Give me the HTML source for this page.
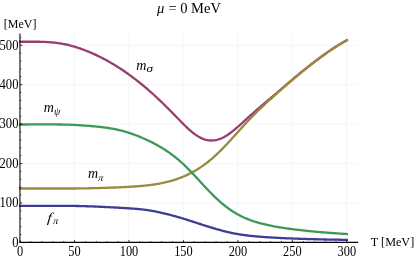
<!DOCTYPE html>
<html><head><meta charset="utf-8"><title>plot</title>
<style>
html,body{margin:0;padding:0;background:#fff;}
body{width:415px;height:258px;position:relative;overflow:hidden;font-family:"Liberation Serif",serif;}
</style></head><body>
<svg width="415" height="258" viewBox="0 0 415 258" style="position:absolute;left:0;top:0;will-change:transform;opacity:0.999">
<line x1="74.27" y1="33.2" x2="74.27" y2="242.4" stroke="#f5f5f5" stroke-width="1"/>
<line x1="128.73" y1="33.2" x2="128.73" y2="242.4" stroke="#f5f5f5" stroke-width="1"/>
<line x1="183.19" y1="33.2" x2="183.19" y2="242.4" stroke="#f5f5f5" stroke-width="1"/>
<line x1="237.66" y1="33.2" x2="237.66" y2="242.4" stroke="#f5f5f5" stroke-width="1"/>
<line x1="292.12" y1="33.2" x2="292.12" y2="242.4" stroke="#f5f5f5" stroke-width="1"/>
<line x1="346.59" y1="33.2" x2="346.59" y2="242.4" stroke="#f5f5f5" stroke-width="1"/>
<line x1="20.05" y1="202.97" x2="358.2" y2="202.97" stroke="#f5f5f5" stroke-width="1"/>
<line x1="20.05" y1="163.54" x2="358.2" y2="163.54" stroke="#f5f5f5" stroke-width="1"/>
<line x1="20.05" y1="124.11" x2="358.2" y2="124.11" stroke="#f5f5f5" stroke-width="1"/>
<line x1="20.05" y1="84.68" x2="358.2" y2="84.68" stroke="#f5f5f5" stroke-width="1"/>
<line x1="20.05" y1="45.25" x2="358.2" y2="45.25" stroke="#f5f5f5" stroke-width="1"/>
<path d="M20.05 205.80 L21.14 205.80 L22.23 205.80 L23.32 205.80 L24.41 205.80 L25.50 205.80 L26.59 205.80 L27.68 205.80 L28.76 205.80 L29.85 205.80 L30.94 205.80 L32.03 205.80 L33.12 205.80 L34.21 205.80 L35.30 205.80 L36.39 205.80 L37.48 205.80 L38.57 205.80 L39.66 205.80 L40.75 205.80 L41.84 205.80 L42.93 205.80 L44.01 205.80 L45.10 205.80 L46.19 205.79 L47.28 205.79 L48.37 205.79 L49.46 205.79 L50.55 205.79 L51.64 205.79 L52.73 205.79 L53.82 205.79 L54.91 205.79 L56.00 205.79 L57.09 205.79 L58.18 205.79 L59.26 205.80 L60.35 205.80 L61.44 205.80 L62.53 205.81 L63.62 205.81 L64.71 205.82 L65.80 205.82 L66.89 205.83 L67.98 205.84 L69.07 205.85 L70.16 205.87 L71.25 205.88 L72.34 205.90 L73.43 205.92 L74.52 205.94 L75.60 205.96 L76.69 205.98 L77.78 206.00 L78.87 206.02 L79.96 206.05 L81.05 206.08 L82.14 206.11 L83.23 206.14 L84.32 206.17 L85.41 206.20 L86.50 206.24 L87.59 206.27 L88.68 206.31 L89.77 206.35 L90.85 206.39 L91.94 206.43 L93.03 206.47 L94.12 206.52 L95.21 206.56 L96.30 206.61 L97.39 206.65 L98.48 206.70 L99.57 206.75 L100.66 206.80 L101.75 206.85 L102.84 206.90 L103.93 206.95 L105.02 207.01 L106.10 207.06 L107.19 207.11 L108.28 207.17 L109.37 207.22 L110.46 207.28 L111.55 207.33 L112.64 207.39 L113.73 207.45 L114.82 207.51 L115.91 207.57 L117.00 207.63 L118.09 207.69 L119.18 207.75 L120.27 207.81 L121.35 207.88 L122.44 207.94 L123.53 208.01 L124.62 208.07 L125.71 208.13 L126.80 208.20 L127.89 208.26 L128.98 208.33 L130.07 208.40 L131.16 208.48 L132.25 208.55 L133.34 208.63 L134.43 208.71 L135.52 208.80 L136.61 208.89 L137.69 208.99 L138.78 209.09 L139.87 209.20 L140.96 209.31 L142.05 209.43 L143.14 209.55 L144.23 209.69 L145.32 209.83 L146.41 209.98 L147.50 210.13 L148.59 210.30 L149.68 210.47 L150.77 210.65 L151.86 210.84 L152.94 211.04 L154.03 211.24 L155.12 211.45 L156.21 211.67 L157.30 211.89 L158.39 212.12 L159.48 212.36 L160.57 212.60 L161.66 212.84 L162.75 213.09 L163.84 213.35 L164.93 213.61 L166.02 213.87 L167.11 214.14 L168.19 214.41 L169.28 214.69 L170.37 214.97 L171.46 215.25 L172.55 215.54 L173.64 215.83 L174.73 216.13 L175.82 216.43 L176.91 216.74 L178.00 217.05 L179.09 217.37 L180.18 217.69 L181.27 218.01 L182.36 218.34 L183.44 218.67 L184.53 219.01 L185.62 219.35 L186.71 219.69 L187.80 220.04 L188.89 220.39 L189.98 220.74 L191.07 221.09 L192.16 221.45 L193.25 221.81 L194.34 222.16 L195.43 222.52 L196.52 222.88 L197.61 223.24 L198.70 223.60 L199.78 223.95 L200.87 224.31 L201.96 224.66 L203.05 225.01 L204.14 225.36 L205.23 225.70 L206.32 226.04 L207.41 226.38 L208.50 226.72 L209.59 227.06 L210.68 227.39 L211.77 227.72 L212.86 228.04 L213.95 228.36 L215.03 228.68 L216.12 229.00 L217.21 229.31 L218.30 229.62 L219.39 229.92 L220.48 230.22 L221.57 230.51 L222.66 230.80 L223.75 231.08 L224.84 231.35 L225.93 231.62 L227.02 231.88 L228.11 232.14 L229.20 232.39 L230.28 232.63 L231.37 232.86 L232.46 233.09 L233.55 233.31 L234.64 233.52 L235.73 233.72 L236.82 233.92 L237.91 234.11 L239.00 234.29 L240.09 234.46 L241.18 234.63 L242.27 234.79 L243.36 234.95 L244.45 235.10 L245.54 235.24 L246.62 235.38 L247.71 235.51 L248.80 235.64 L249.89 235.77 L250.98 235.89 L252.07 236.00 L253.16 236.11 L254.25 236.22 L255.34 236.32 L256.43 236.42 L257.52 236.52 L258.61 236.61 L259.70 236.70 L260.79 236.79 L261.87 236.87 L262.96 236.95 L264.05 237.03 L265.14 237.10 L266.23 237.18 L267.32 237.25 L268.41 237.32 L269.50 237.39 L270.59 237.45 L271.68 237.52 L272.77 237.58 L273.86 237.64 L274.95 237.70 L276.04 237.76 L277.12 237.81 L278.21 237.87 L279.30 237.92 L280.39 237.98 L281.48 238.03 L282.57 238.08 L283.66 238.13 L284.75 238.18 L285.84 238.23 L286.93 238.28 L288.02 238.33 L289.11 238.37 L290.20 238.42 L291.29 238.46 L292.38 238.50 L293.46 238.55 L294.55 238.59 L295.64 238.63 L296.73 238.67 L297.82 238.71 L298.91 238.75 L300.00 238.79 L301.09 238.83 L302.18 238.86 L303.27 238.90 L304.36 238.93 L305.45 238.97 L306.54 239.00 L307.63 239.03 L308.71 239.06 L309.80 239.09 L310.89 239.12 L311.98 239.15 L313.07 239.18 L314.16 239.21 L315.25 239.24 L316.34 239.27 L317.43 239.30 L318.52 239.33 L319.61 239.36 L320.70 239.38 L321.79 239.41 L322.88 239.44 L323.96 239.46 L325.05 239.49 L326.14 239.51 L327.23 239.53 L328.32 239.55 L329.41 239.57 L330.50 239.59 L331.59 239.61 L332.68 239.63 L333.77 239.65 L334.86 239.66 L335.95 239.68 L337.04 239.70 L338.13 239.72 L339.21 239.74 L340.30 239.76 L341.39 239.78 L342.48 239.80 L343.57 239.82 L344.66 239.84 L345.75 239.86 L346.84 239.88" fill="none" stroke="#3d3d99" stroke-width="2.3" stroke-linejoin="round" stroke-linecap="square"/>
<path d="M20.05 41.74 L21.14 41.74 L22.23 41.74 L23.32 41.74 L24.41 41.74 L25.50 41.74 L26.59 41.75 L27.68 41.75 L28.76 41.75 L29.85 41.75 L30.94 41.74 L32.03 41.74 L33.12 41.74 L34.21 41.74 L35.30 41.74 L36.39 41.74 L37.48 41.75 L38.57 41.76 L39.66 41.77 L40.75 41.79 L41.84 41.82 L42.93 41.85 L44.01 41.89 L45.10 41.94 L46.19 41.99 L47.28 42.06 L48.37 42.13 L49.46 42.20 L50.55 42.29 L51.64 42.38 L52.73 42.49 L53.82 42.60 L54.91 42.72 L56.00 42.85 L57.09 42.98 L58.18 43.13 L59.26 43.29 L60.35 43.46 L61.44 43.64 L62.53 43.83 L63.62 44.03 L64.71 44.25 L65.80 44.47 L66.89 44.71 L67.98 44.96 L69.07 45.23 L70.16 45.50 L71.25 45.78 L72.34 46.08 L73.43 46.39 L74.52 46.70 L75.60 47.03 L76.69 47.37 L77.78 47.72 L78.87 48.08 L79.96 48.46 L81.05 48.84 L82.14 49.23 L83.23 49.63 L84.32 50.04 L85.41 50.46 L86.50 50.89 L87.59 51.32 L88.68 51.77 L89.77 52.22 L90.85 52.69 L91.94 53.16 L93.03 53.64 L94.12 54.13 L95.21 54.63 L96.30 55.14 L97.39 55.65 L98.48 56.18 L99.57 56.71 L100.66 57.25 L101.75 57.80 L102.84 58.36 L103.93 58.93 L105.02 59.51 L106.10 60.09 L107.19 60.69 L108.28 61.29 L109.37 61.91 L110.46 62.53 L111.55 63.16 L112.64 63.81 L113.73 64.46 L114.82 65.12 L115.91 65.79 L117.00 66.48 L118.09 67.17 L119.18 67.87 L120.27 68.58 L121.35 69.30 L122.44 70.03 L123.53 70.77 L124.62 71.52 L125.71 72.27 L126.80 73.04 L127.89 73.81 L128.98 74.59 L130.07 75.38 L131.16 76.18 L132.25 76.98 L133.34 77.80 L134.43 78.62 L135.52 79.45 L136.61 80.29 L137.69 81.14 L138.78 81.99 L139.87 82.86 L140.96 83.73 L142.05 84.62 L143.14 85.51 L144.23 86.41 L145.32 87.33 L146.41 88.25 L147.50 89.18 L148.59 90.13 L149.68 91.08 L150.77 92.04 L151.86 93.01 L152.94 94.00 L154.03 94.99 L155.12 95.99 L156.21 97.00 L157.30 98.02 L158.39 99.05 L159.48 100.08 L160.57 101.13 L161.66 102.18 L162.75 103.24 L163.84 104.30 L164.93 105.37 L166.02 106.45 L167.11 107.53 L168.19 108.62 L169.28 109.72 L170.37 110.81 L171.46 111.91 L172.55 113.01 L173.64 114.12 L174.73 115.22 L175.82 116.33 L176.91 117.45 L178.00 118.57 L179.09 119.70 L180.18 120.82 L181.27 121.95 L182.36 123.06 L183.44 124.16 L184.53 125.23 L185.62 126.29 L186.71 127.32 L187.80 128.33 L188.89 129.32 L189.98 130.28 L191.07 131.21 L192.16 132.12 L193.25 132.98 L194.34 133.81 L195.43 134.60 L196.52 135.35 L197.61 136.05 L198.70 136.71 L199.78 137.32 L200.87 137.87 L201.96 138.38 L203.05 138.83 L204.14 139.23 L205.23 139.58 L206.32 139.87 L207.41 140.11 L208.50 140.29 L209.59 140.42 L210.68 140.49 L211.77 140.50 L212.86 140.46 L213.95 140.37 L215.03 140.22 L216.12 140.02 L217.21 139.76 L218.30 139.46 L219.39 139.10 L220.48 138.70 L221.57 138.25 L222.66 137.74 L223.75 137.19 L224.84 136.60 L225.93 135.95 L227.02 135.27 L228.11 134.55 L229.20 133.79 L230.28 133.00 L231.37 132.17 L232.46 131.32 L233.55 130.45 L234.64 129.55 L235.73 128.63 L236.82 127.70 L237.91 126.75 L239.00 125.79 L240.09 124.82 L241.18 123.84 L242.27 122.86 L243.36 121.87 L244.45 120.88 L245.54 119.89 L246.62 118.90 L247.71 117.91 L248.80 116.93 L249.89 115.94 L250.98 114.97 L252.07 114.00 L253.16 113.03 L254.25 112.07 L255.34 111.11 L256.43 110.16 L257.52 109.22 L258.61 108.28 L259.70 107.35 L260.79 106.42 L261.87 105.49 L262.96 104.57 L264.05 103.65 L265.14 102.73 L266.23 101.81 L267.32 100.89 L268.41 99.97 L269.50 99.05 L270.59 98.13 L271.68 97.21 L272.77 96.29 L273.86 95.36 L274.95 94.44 L276.04 93.51 L277.12 92.58 L278.21 91.66 L279.30 90.73 L280.39 89.80 L281.48 88.87 L282.57 87.94 L283.66 87.00 L284.75 86.07 L285.84 85.14 L286.93 84.21 L288.02 83.28 L289.11 82.35 L290.20 81.43 L291.29 80.51 L292.38 79.59 L293.46 78.67 L294.55 77.75 L295.64 76.84 L296.73 75.93 L297.82 75.03 L298.91 74.13 L300.00 73.23 L301.09 72.34 L302.18 71.45 L303.27 70.56 L304.36 69.69 L305.45 68.81 L306.54 67.94 L307.63 67.08 L308.71 66.22 L309.80 65.37 L310.89 64.52 L311.98 63.68 L313.07 62.84 L314.16 62.00 L315.25 61.17 L316.34 60.34 L317.43 59.52 L318.52 58.71 L319.61 57.90 L320.70 57.09 L321.79 56.29 L322.88 55.50 L323.96 54.72 L325.05 53.94 L326.14 53.17 L327.23 52.41 L328.32 51.65 L329.41 50.90 L330.50 50.16 L331.59 49.43 L332.68 48.71 L333.77 48.00 L334.86 47.29 L335.95 46.59 L337.04 45.91 L338.13 45.23 L339.21 44.56 L340.30 43.91 L341.39 43.26 L342.48 42.63 L343.57 42.01 L344.66 41.40 L345.75 40.79 L346.84 40.19" fill="none" stroke="#993d71" stroke-width="2.3" stroke-linejoin="round" stroke-linecap="square"/>
<path d="M20.05 188.51 L21.14 188.51 L22.23 188.51 L23.32 188.51 L24.41 188.51 L25.50 188.51 L26.59 188.51 L27.68 188.51 L28.76 188.51 L29.85 188.51 L30.94 188.51 L32.03 188.51 L33.12 188.51 L34.21 188.50 L35.30 188.50 L36.39 188.50 L37.48 188.50 L38.57 188.50 L39.66 188.50 L40.75 188.50 L41.84 188.50 L42.93 188.50 L44.01 188.50 L45.10 188.50 L46.19 188.50 L47.28 188.50 L48.37 188.50 L49.46 188.50 L50.55 188.50 L51.64 188.50 L52.73 188.50 L53.82 188.50 L54.91 188.50 L56.00 188.50 L57.09 188.50 L58.18 188.50 L59.26 188.51 L60.35 188.51 L61.44 188.51 L62.53 188.51 L63.62 188.51 L64.71 188.51 L65.80 188.51 L66.89 188.51 L67.98 188.51 L69.07 188.51 L70.16 188.51 L71.25 188.51 L72.34 188.50 L73.43 188.50 L74.52 188.49 L75.60 188.48 L76.69 188.47 L77.78 188.46 L78.87 188.45 L79.96 188.44 L81.05 188.42 L82.14 188.40 L83.23 188.39 L84.32 188.37 L85.41 188.35 L86.50 188.32 L87.59 188.30 L88.68 188.28 L89.77 188.25 L90.85 188.23 L91.94 188.20 L93.03 188.17 L94.12 188.15 L95.21 188.12 L96.30 188.09 L97.39 188.06 L98.48 188.03 L99.57 188.00 L100.66 187.97 L101.75 187.94 L102.84 187.90 L103.93 187.87 L105.02 187.83 L106.10 187.80 L107.19 187.76 L108.28 187.72 L109.37 187.69 L110.46 187.65 L111.55 187.61 L112.64 187.56 L113.73 187.52 L114.82 187.48 L115.91 187.43 L117.00 187.39 L118.09 187.34 L119.18 187.30 L120.27 187.25 L121.35 187.20 L122.44 187.15 L123.53 187.10 L124.62 187.05 L125.71 186.99 L126.80 186.94 L127.89 186.88 L128.98 186.82 L130.07 186.76 L131.16 186.69 L132.25 186.63 L133.34 186.56 L134.43 186.48 L135.52 186.41 L136.61 186.33 L137.69 186.25 L138.78 186.17 L139.87 186.08 L140.96 185.99 L142.05 185.89 L143.14 185.79 L144.23 185.68 L145.32 185.57 L146.41 185.46 L147.50 185.34 L148.59 185.21 L149.68 185.08 L150.77 184.95 L151.86 184.80 L152.94 184.66 L154.03 184.50 L155.12 184.34 L156.21 184.17 L157.30 183.99 L158.39 183.80 L159.48 183.61 L160.57 183.40 L161.66 183.19 L162.75 182.96 L163.84 182.73 L164.93 182.49 L166.02 182.23 L167.11 181.97 L168.19 181.69 L169.28 181.41 L170.37 181.11 L171.46 180.79 L172.55 180.47 L173.64 180.14 L174.73 179.79 L175.82 179.43 L176.91 179.06 L178.00 178.67 L179.09 178.28 L180.18 177.87 L181.27 177.44 L182.36 177.00 L183.44 176.55 L184.53 176.09 L185.62 175.61 L186.71 175.11 L187.80 174.60 L188.89 174.07 L189.98 173.53 L191.07 172.97 L192.16 172.39 L193.25 171.80 L194.34 171.19 L195.43 170.56 L196.52 169.91 L197.61 169.25 L198.70 168.56 L199.78 167.86 L200.87 167.13 L201.96 166.39 L203.05 165.62 L204.14 164.84 L205.23 164.03 L206.32 163.21 L207.41 162.36 L208.50 161.49 L209.59 160.61 L210.68 159.70 L211.77 158.77 L212.86 157.83 L213.95 156.86 L215.03 155.88 L216.12 154.88 L217.21 153.85 L218.30 152.81 L219.39 151.75 L220.48 150.68 L221.57 149.59 L222.66 148.49 L223.75 147.37 L224.84 146.24 L225.93 145.10 L227.02 143.94 L228.11 142.78 L229.20 141.61 L230.28 140.42 L231.37 139.24 L232.46 138.04 L233.55 136.84 L234.64 135.64 L235.73 134.43 L236.82 133.22 L237.91 132.01 L239.00 130.80 L240.09 129.59 L241.18 128.38 L242.27 127.17 L243.36 125.98 L244.45 124.78 L245.54 123.60 L246.62 122.43 L247.71 121.26 L248.80 120.11 L249.89 118.96 L250.98 117.83 L252.07 116.71 L253.16 115.60 L254.25 114.50 L255.34 113.41 L256.43 112.33 L257.52 111.26 L258.61 110.20 L259.70 109.15 L260.79 108.11 L261.87 107.08 L262.96 106.05 L264.05 105.04 L265.14 104.02 L266.23 103.02 L267.32 102.02 L268.41 101.02 L269.50 100.03 L270.59 99.04 L271.68 98.05 L272.77 97.06 L273.86 96.08 L274.95 95.10 L276.04 94.12 L277.12 93.15 L278.21 92.18 L279.30 91.22 L280.39 90.27 L281.48 89.31 L282.57 88.36 L283.66 87.41 L284.75 86.46 L285.84 85.52 L286.93 84.58 L288.02 83.64 L289.11 82.70 L290.20 81.77 L291.29 80.84 L292.38 79.91 L293.46 78.99 L294.55 78.07 L295.64 77.16 L296.73 76.25 L297.82 75.35 L298.91 74.45 L300.00 73.55 L301.09 72.66 L302.18 71.77 L303.27 70.88 L304.36 70.00 L305.45 69.13 L306.54 68.26 L307.63 67.39 L308.71 66.53 L309.80 65.67 L310.89 64.82 L311.98 63.97 L313.07 63.13 L314.16 62.29 L315.25 61.45 L316.34 60.63 L317.43 59.80 L318.52 58.98 L319.61 58.17 L320.70 57.36 L321.79 56.57 L322.88 55.77 L323.96 54.98 L325.05 54.20 L326.14 53.43 L327.23 52.67 L328.32 51.91 L329.41 51.16 L330.50 50.42 L331.59 49.68 L332.68 48.96 L333.77 48.24 L334.86 47.53 L335.95 46.84 L337.04 46.15 L338.13 45.47 L339.21 44.80 L340.30 44.14 L341.39 43.50 L342.48 42.86 L343.57 42.24 L344.66 41.62 L345.75 41.02 L346.84 40.41" fill="none" stroke="#998b3d" stroke-width="2.3" stroke-linejoin="round" stroke-linecap="square"/>
<path d="M20.05 124.48 L21.14 124.48 L22.23 124.48 L23.32 124.48 L24.41 124.48 L25.50 124.48 L26.59 124.48 L27.68 124.48 L28.76 124.47 L29.85 124.47 L30.94 124.47 L32.03 124.47 L33.12 124.47 L34.21 124.47 L35.30 124.47 L36.39 124.47 L37.48 124.47 L38.57 124.47 L39.66 124.47 L40.75 124.47 L41.84 124.46 L42.93 124.46 L44.01 124.46 L45.10 124.46 L46.19 124.46 L47.28 124.46 L48.37 124.46 L49.46 124.46 L50.55 124.46 L51.64 124.46 L52.73 124.46 L53.82 124.46 L54.91 124.46 L56.00 124.47 L57.09 124.47 L58.18 124.48 L59.26 124.49 L60.35 124.50 L61.44 124.52 L62.53 124.53 L63.62 124.55 L64.71 124.57 L65.80 124.60 L66.89 124.63 L67.98 124.66 L69.07 124.70 L70.16 124.74 L71.25 124.78 L72.34 124.83 L73.43 124.88 L74.52 124.94 L75.60 125.00 L76.69 125.06 L77.78 125.13 L78.87 125.20 L79.96 125.27 L81.05 125.34 L82.14 125.41 L83.23 125.48 L84.32 125.56 L85.41 125.64 L86.50 125.72 L87.59 125.80 L88.68 125.88 L89.77 125.97 L90.85 126.06 L91.94 126.15 L93.03 126.25 L94.12 126.34 L95.21 126.44 L96.30 126.55 L97.39 126.65 L98.48 126.77 L99.57 126.88 L100.66 127.00 L101.75 127.13 L102.84 127.26 L103.93 127.40 L105.02 127.54 L106.10 127.69 L107.19 127.85 L108.28 128.01 L109.37 128.18 L110.46 128.36 L111.55 128.54 L112.64 128.74 L113.73 128.94 L114.82 129.16 L115.91 129.38 L117.00 129.61 L118.09 129.85 L119.18 130.10 L120.27 130.36 L121.35 130.63 L122.44 130.91 L123.53 131.20 L124.62 131.51 L125.71 131.82 L126.80 132.14 L127.89 132.48 L128.98 132.82 L130.07 133.18 L131.16 133.55 L132.25 133.93 L133.34 134.31 L134.43 134.71 L135.52 135.12 L136.61 135.54 L137.69 135.97 L138.78 136.40 L139.87 136.85 L140.96 137.30 L142.05 137.77 L143.14 138.24 L144.23 138.72 L145.32 139.21 L146.41 139.71 L147.50 140.22 L148.59 140.73 L149.68 141.26 L150.77 141.79 L151.86 142.34 L152.94 142.89 L154.03 143.46 L155.12 144.03 L156.21 144.62 L157.30 145.21 L158.39 145.82 L159.48 146.44 L160.57 147.08 L161.66 147.72 L162.75 148.39 L163.84 149.06 L164.93 149.75 L166.02 150.46 L167.11 151.18 L168.19 151.92 L169.28 152.67 L170.37 153.44 L171.46 154.24 L172.55 155.05 L173.64 155.88 L174.73 156.73 L175.82 157.60 L176.91 158.49 L178.00 159.40 L179.09 160.33 L180.18 161.28 L181.27 162.26 L182.36 163.25 L183.44 164.26 L184.53 165.29 L185.62 166.34 L186.71 167.41 L187.80 168.50 L188.89 169.60 L189.98 170.71 L191.07 171.84 L192.16 172.98 L193.25 174.14 L194.34 175.30 L195.43 176.47 L196.52 177.65 L197.61 178.83 L198.70 180.01 L199.78 181.20 L200.87 182.39 L201.96 183.57 L203.05 184.75 L204.14 185.93 L205.23 187.10 L206.32 188.26 L207.41 189.41 L208.50 190.55 L209.59 191.69 L210.68 192.80 L211.77 193.91 L212.86 195.00 L213.95 196.08 L215.03 197.13 L216.12 198.18 L217.21 199.20 L218.30 200.20 L219.39 201.18 L220.48 202.14 L221.57 203.08 L222.66 204.00 L223.75 204.90 L224.84 205.77 L225.93 206.62 L227.02 207.45 L228.11 208.25 L229.20 209.03 L230.28 209.79 L231.37 210.52 L232.46 211.24 L233.55 211.93 L234.64 212.60 L235.73 213.25 L236.82 213.88 L237.91 214.48 L239.00 215.07 L240.09 215.64 L241.18 216.19 L242.27 216.72 L243.36 217.23 L244.45 217.73 L245.54 218.20 L246.62 218.66 L247.71 219.11 L248.80 219.54 L249.89 219.95 L250.98 220.35 L252.07 220.74 L253.16 221.11 L254.25 221.47 L255.34 221.82 L256.43 222.15 L257.52 222.47 L258.61 222.79 L259.70 223.09 L260.79 223.38 L261.87 223.66 L262.96 223.94 L264.05 224.20 L265.14 224.46 L266.23 224.71 L267.32 224.96 L268.41 225.20 L269.50 225.43 L270.59 225.65 L271.68 225.87 L272.77 226.09 L273.86 226.30 L274.95 226.51 L276.04 226.71 L277.12 226.90 L278.21 227.10 L279.30 227.28 L280.39 227.47 L281.48 227.64 L282.57 227.81 L283.66 227.97 L284.75 228.13 L285.84 228.29 L286.93 228.44 L288.02 228.59 L289.11 228.74 L290.20 228.89 L291.29 229.03 L292.38 229.18 L293.46 229.32 L294.55 229.45 L295.64 229.59 L296.73 229.72 L297.82 229.85 L298.91 229.98 L300.00 230.11 L301.09 230.23 L302.18 230.35 L303.27 230.47 L304.36 230.59 L305.45 230.71 L306.54 230.82 L307.63 230.94 L308.71 231.05 L309.80 231.16 L310.89 231.26 L311.98 231.37 L313.07 231.47 L314.16 231.58 L315.25 231.68 L316.34 231.78 L317.43 231.88 L318.52 231.97 L319.61 232.07 L320.70 232.16 L321.79 232.25 L322.88 232.34 L323.96 232.43 L325.05 232.52 L326.14 232.60 L327.23 232.69 L328.32 232.77 L329.41 232.85 L330.50 232.93 L331.59 233.01 L332.68 233.08 L333.77 233.16 L334.86 233.23 L335.95 233.31 L337.04 233.38 L338.13 233.45 L339.21 233.53 L340.30 233.60 L341.39 233.67 L342.48 233.74 L343.57 233.81 L344.66 233.88 L345.75 233.95 L346.84 234.02" fill="none" stroke="#3d9956" stroke-width="2.3" stroke-linejoin="round" stroke-linecap="square"/>
<line x1="19.95" y1="33.400000000000006" x2="19.95" y2="242.9" stroke="#000" stroke-width="1.05"/>
<line x1="19.55" y1="242.4" x2="358.2" y2="242.4" stroke="#000" stroke-width="1.15"/>
<line x1="20.05" y1="242.4" x2="20.05" y2="240.1" stroke="#000" stroke-width="0.8"/>
<line x1="30.94" y1="242.4" x2="30.94" y2="241.20000000000002" stroke="#000" stroke-width="0.8"/>
<line x1="41.84" y1="242.4" x2="41.84" y2="241.20000000000002" stroke="#000" stroke-width="0.8"/>
<line x1="52.73" y1="242.4" x2="52.73" y2="241.20000000000002" stroke="#000" stroke-width="0.8"/>
<line x1="63.62" y1="242.4" x2="63.62" y2="241.20000000000002" stroke="#000" stroke-width="0.8"/>
<line x1="74.52" y1="242.4" x2="74.52" y2="240.1" stroke="#000" stroke-width="0.8"/>
<line x1="85.41" y1="242.4" x2="85.41" y2="241.20000000000002" stroke="#000" stroke-width="0.8"/>
<line x1="96.30" y1="242.4" x2="96.30" y2="241.20000000000002" stroke="#000" stroke-width="0.8"/>
<line x1="107.19" y1="242.4" x2="107.19" y2="241.20000000000002" stroke="#000" stroke-width="0.8"/>
<line x1="118.09" y1="242.4" x2="118.09" y2="241.20000000000002" stroke="#000" stroke-width="0.8"/>
<line x1="128.98" y1="242.4" x2="128.98" y2="240.1" stroke="#000" stroke-width="0.8"/>
<line x1="139.87" y1="242.4" x2="139.87" y2="241.20000000000002" stroke="#000" stroke-width="0.8"/>
<line x1="150.77" y1="242.4" x2="150.77" y2="241.20000000000002" stroke="#000" stroke-width="0.8"/>
<line x1="161.66" y1="242.4" x2="161.66" y2="241.20000000000002" stroke="#000" stroke-width="0.8"/>
<line x1="172.55" y1="242.4" x2="172.55" y2="241.20000000000002" stroke="#000" stroke-width="0.8"/>
<line x1="183.44" y1="242.4" x2="183.44" y2="240.1" stroke="#000" stroke-width="0.8"/>
<line x1="194.34" y1="242.4" x2="194.34" y2="241.20000000000002" stroke="#000" stroke-width="0.8"/>
<line x1="205.23" y1="242.4" x2="205.23" y2="241.20000000000002" stroke="#000" stroke-width="0.8"/>
<line x1="216.12" y1="242.4" x2="216.12" y2="241.20000000000002" stroke="#000" stroke-width="0.8"/>
<line x1="227.02" y1="242.4" x2="227.02" y2="241.20000000000002" stroke="#000" stroke-width="0.8"/>
<line x1="237.91" y1="242.4" x2="237.91" y2="240.1" stroke="#000" stroke-width="0.8"/>
<line x1="248.80" y1="242.4" x2="248.80" y2="241.20000000000002" stroke="#000" stroke-width="0.8"/>
<line x1="259.70" y1="242.4" x2="259.70" y2="241.20000000000002" stroke="#000" stroke-width="0.8"/>
<line x1="270.59" y1="242.4" x2="270.59" y2="241.20000000000002" stroke="#000" stroke-width="0.8"/>
<line x1="281.48" y1="242.4" x2="281.48" y2="241.20000000000002" stroke="#000" stroke-width="0.8"/>
<line x1="292.38" y1="242.4" x2="292.38" y2="240.1" stroke="#000" stroke-width="0.8"/>
<line x1="303.27" y1="242.4" x2="303.27" y2="241.20000000000002" stroke="#000" stroke-width="0.8"/>
<line x1="314.16" y1="242.4" x2="314.16" y2="241.20000000000002" stroke="#000" stroke-width="0.8"/>
<line x1="325.05" y1="242.4" x2="325.05" y2="241.20000000000002" stroke="#000" stroke-width="0.8"/>
<line x1="335.95" y1="242.4" x2="335.95" y2="241.20000000000002" stroke="#000" stroke-width="0.8"/>
<line x1="346.84" y1="242.4" x2="346.84" y2="240.1" stroke="#000" stroke-width="0.8"/>
<line x1="20.05" y1="242.40" x2="22.35" y2="242.40" stroke="#000" stroke-width="0.8"/>
<line x1="20.05" y1="234.51" x2="21.25" y2="234.51" stroke="#000" stroke-width="0.8"/>
<line x1="20.05" y1="226.63" x2="21.25" y2="226.63" stroke="#000" stroke-width="0.8"/>
<line x1="20.05" y1="218.74" x2="21.25" y2="218.74" stroke="#000" stroke-width="0.8"/>
<line x1="20.05" y1="210.86" x2="21.25" y2="210.86" stroke="#000" stroke-width="0.8"/>
<line x1="20.05" y1="202.97" x2="22.35" y2="202.97" stroke="#000" stroke-width="0.8"/>
<line x1="20.05" y1="195.08" x2="21.25" y2="195.08" stroke="#000" stroke-width="0.8"/>
<line x1="20.05" y1="187.20" x2="21.25" y2="187.20" stroke="#000" stroke-width="0.8"/>
<line x1="20.05" y1="179.31" x2="21.25" y2="179.31" stroke="#000" stroke-width="0.8"/>
<line x1="20.05" y1="171.43" x2="21.25" y2="171.43" stroke="#000" stroke-width="0.8"/>
<line x1="20.05" y1="163.54" x2="22.35" y2="163.54" stroke="#000" stroke-width="0.8"/>
<line x1="20.05" y1="155.65" x2="21.25" y2="155.65" stroke="#000" stroke-width="0.8"/>
<line x1="20.05" y1="147.77" x2="21.25" y2="147.77" stroke="#000" stroke-width="0.8"/>
<line x1="20.05" y1="139.88" x2="21.25" y2="139.88" stroke="#000" stroke-width="0.8"/>
<line x1="20.05" y1="132.00" x2="21.25" y2="132.00" stroke="#000" stroke-width="0.8"/>
<line x1="20.05" y1="124.11" x2="22.35" y2="124.11" stroke="#000" stroke-width="0.8"/>
<line x1="20.05" y1="116.22" x2="21.25" y2="116.22" stroke="#000" stroke-width="0.8"/>
<line x1="20.05" y1="108.34" x2="21.25" y2="108.34" stroke="#000" stroke-width="0.8"/>
<line x1="20.05" y1="100.45" x2="21.25" y2="100.45" stroke="#000" stroke-width="0.8"/>
<line x1="20.05" y1="92.57" x2="21.25" y2="92.57" stroke="#000" stroke-width="0.8"/>
<line x1="20.05" y1="84.68" x2="22.35" y2="84.68" stroke="#000" stroke-width="0.8"/>
<line x1="20.05" y1="76.79" x2="21.25" y2="76.79" stroke="#000" stroke-width="0.8"/>
<line x1="20.05" y1="68.91" x2="21.25" y2="68.91" stroke="#000" stroke-width="0.8"/>
<line x1="20.05" y1="61.02" x2="21.25" y2="61.02" stroke="#000" stroke-width="0.8"/>
<line x1="20.05" y1="53.14" x2="21.25" y2="53.14" stroke="#000" stroke-width="0.8"/>
<line x1="20.05" y1="45.25" x2="22.35" y2="45.25" stroke="#000" stroke-width="0.8"/>
<line x1="20.05" y1="37.36" x2="21.25" y2="37.36" stroke="#000" stroke-width="0.8"/>
<text transform="translate(20.05,255.6) scale(1.03,1.16)" font-size="12" text-anchor="middle" font-family="Liberation Serif, serif">0</text>
<text transform="translate(74.52,255.6) scale(1.03,1.16)" font-size="12" text-anchor="middle" font-family="Liberation Serif, serif">50</text>
<text transform="translate(128.98,255.6) scale(1.03,1.16)" font-size="12" text-anchor="middle" font-family="Liberation Serif, serif">100</text>
<text transform="translate(183.44,255.6) scale(1.03,1.16)" font-size="12" text-anchor="middle" font-family="Liberation Serif, serif">150</text>
<text transform="translate(237.91,255.6) scale(1.03,1.16)" font-size="12" text-anchor="middle" font-family="Liberation Serif, serif">200</text>
<text transform="translate(292.38,255.6) scale(1.03,1.16)" font-size="12" text-anchor="middle" font-family="Liberation Serif, serif">250</text>
<text transform="translate(346.84,255.6) scale(1.03,1.16)" font-size="12" text-anchor="middle" font-family="Liberation Serif, serif">300</text>
<text transform="translate(18.45,246.70) scale(1.05,1.17)" font-size="12" text-anchor="end" font-family="Liberation Serif, serif">0</text>
<text transform="translate(18.45,207.27) scale(1.05,1.17)" font-size="12" text-anchor="end" font-family="Liberation Serif, serif">100</text>
<text transform="translate(18.45,167.84) scale(1.05,1.17)" font-size="12" text-anchor="end" font-family="Liberation Serif, serif">200</text>
<text transform="translate(18.45,128.41) scale(1.05,1.17)" font-size="12" text-anchor="end" font-family="Liberation Serif, serif">300</text>
<text transform="translate(18.45,88.98) scale(1.05,1.17)" font-size="12" text-anchor="end" font-family="Liberation Serif, serif">400</text>
<text transform="translate(18.45,49.55) scale(1.05,1.17)" font-size="12" text-anchor="end" font-family="Liberation Serif, serif">500</text>
<text x="20.05" y="28.3" font-size="12" text-anchor="middle" font-family="Liberation Serif, serif">[MeV]</text>
<text x="370.8" y="246.3" font-size="12.2" font-family="Liberation Serif, serif">T [MeV]</text>
<text x="156.9" y="12.6" font-size="14.5" font-family="Liberation Serif, serif"><tspan font-style="italic">μ</tspan><tspan dx="0.6"> = 0 MeV</tspan></text>
<text transform="translate(136.3,69.7) " font-size="14" font-style="italic" font-family="Liberation Serif, serif">m</text><text transform="translate(146.4,72.4) scale(1.2,1)" font-size="11" font-style="italic" font-family="Liberation Serif, serif">σ</text>
<text transform="translate(43.8,112.1) " font-size="14" font-style="italic" font-family="Liberation Serif, serif">m</text><text transform="translate(53.9,115.2) " font-size="10" font-style="italic" font-family="Liberation Serif, serif">ψ</text>
<text transform="translate(87.9,178.3) " font-size="14" font-style="italic" font-family="Liberation Serif, serif">m</text><text transform="translate(98.0,180.6) skewX(-6)" font-size="10" font-style="italic" font-family="Liberation Serif, serif">π</text>
<text transform="translate(47.0,222.4) skewX(-6) scale(1.15,1)" font-size="13.5" font-style="italic" font-family="Liberation Serif, serif">f</text><text transform="translate(53.1,223.9) skewX(-6)" font-size="10" font-style="italic" font-family="Liberation Serif, serif">π</text>
</svg>
</body></html>
